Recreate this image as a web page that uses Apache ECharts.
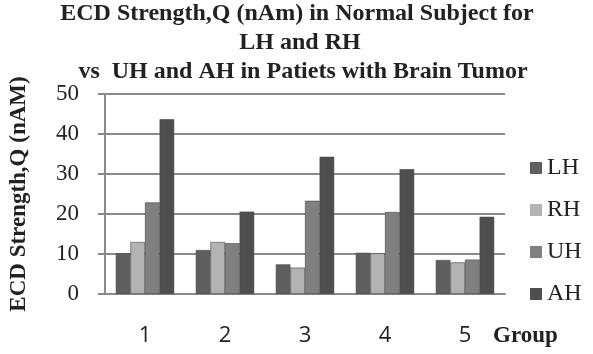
<!DOCTYPE html>
<html>
<head>
<meta charset="utf-8">
<script src="https://cdn.jsdelivr.net/npm/echarts@6/dist/echarts.min.js"></script>
<style>
  html, body { margin: 0; padding: 0; background: #fff; }
  #chart { width: 593px; height: 354px; }
</style>
</head>
<body>
<div id="chart"></div>
<script>
// Group labels along the category axis
const groups = ['1', '2', '3', '4', '5'];
// ECD strength Q (nAm) per hemisphere type
const lhValues = [10.2, 11.0, 7.4, 10.3, 8.5];
const rhValues = [13.0, 13.0, 6.6, 10.2, 7.9];
const uhValues = [22.9, 12.7, 23.3, 20.5, 8.6];
const ahValues = [43.7, 20.6, 34.3, 31.2, 19.3];
const seriesNames = ['LH', 'RH', 'UH', 'AH'];
const seriesColors = ['#5f5f5f', '#b3b3b3', '#808080', '#4e4e4e'];
const yTicks = { min: 0, max: 50, interval: 10 };

const serif = '"Liberation Serif", "Times New Roman", serif';
const chart = echarts.init(document.getElementById('chart'));

const dataSets = [lhValues, rhValues, uhValues, ahValues];
const titleStyle = { fontFamily: serif, fontWeight: 'bold', fontSize: 24, color: '#222' };

chart.setOption({
  animation: false,
  backgroundColor: '#ffffff',
  title: [
    { text: 'ECD Strength,Q (nAm) in Normal Subject for', left: 297, top: 2, textAlign: 'center', padding: 0, textStyle: titleStyle },
    { text: 'LH and RH', left: 300, top: 31, textAlign: 'center', padding: 0, textStyle: titleStyle },
    { text: 'vs  UH and AH in Patiets with Brain Tumor', left: 303, top: 60, textAlign: 'center', padding: 0, textStyle: titleStyle },
    { text: 'Group', left: 493, top: 325, padding: 0,
      textStyle: { fontFamily: serif, fontWeight: 'bold', fontSize: 23, color: '#222' } }
  ],
  legend: {
    orient: 'vertical',
    left: 530,
    top: 156,
    padding: 0,
    itemWidth: 12,
    itemHeight: 12,
    itemGap: 18,
    icon: 'rect',
    itemStyle: { borderWidth: 0 },
    textStyle: { fontFamily: serif, fontSize: 24, color: '#222' },
    data: seriesNames
  },
  grid: { left: 101, right: 88, top: 94, bottom: 60 },
  xAxis: {
    type: 'category',
    data: groups,
    axisLine: { lineStyle: { color: '#8a8a8a', width: 2 } },
    axisTick: { show: false },
    axisLabel: { margin: 31, fontFamily: '"Open Sans", "DejaVu Sans", sans-serif', fontSize: 22, color: '#222' }
  },
  yAxis: {
    type: 'value',
    min: yTicks.min,
    max: yTicks.max,
    interval: yTicks.interval,
    name: 'ECD Strength,Q (nAM)',
    nameLocation: 'middle',
    nameRotate: 90,
    nameGap: 74,
    nameTextStyle: { fontFamily: serif, fontWeight: 'bold', fontSize: 23, color: '#222' },
    axisLine: { show: true, lineStyle: { color: '#8a8a8a', width: 2 } },
    axisTick: { show: true, length: 7, lineStyle: { color: '#8a8a8a', width: 2 } },
    axisLabel: { margin: 26, fontFamily: serif, fontSize: 23, color: '#222' },
    splitLine: { lineStyle: { color: '#8a8a8a', width: 2 } }
  },
  series: dataSets.map((vals, i) => ({
    name: seriesNames[i],
    type: 'bar',
    data: vals,
    barGap: '0%',
    barCategoryGap: '27%',
    itemStyle: { color: seriesColors[i], borderColor: '#444', borderWidth: 0.6 }
  }))
});
</script>
</body>
</html>
